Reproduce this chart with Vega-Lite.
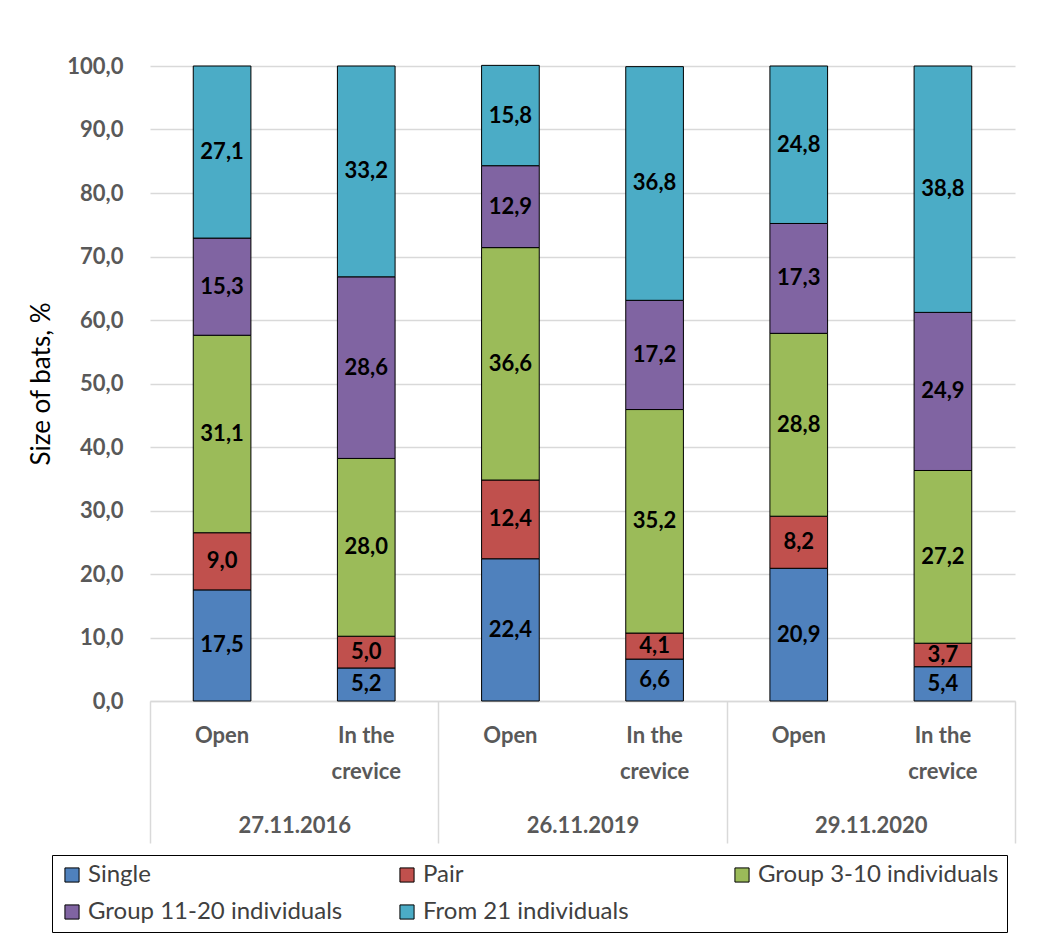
{
  "$schema": "https://vega.github.io/schema/vega-lite/v6.json",
  "autosize": "none",
  "width": 865,
  "height": 635,
  "padding": {"left": 150, "top": 66, "right": 22, "bottom": 250},
  "background": "white",
  "config": {
    "locale": {"number": {"decimal": ",", "thousands": " ", "grouping": [3], "currency": ["", ""]}},
    "view": {"stroke": null},
    "font": "Lato"
  },
  "data": {
    "values": [
      {"cat": "Open 2016", "date": "27.11.2016", "group": "Single", "order": 1, "value": 17.5},
      {"cat": "Open 2016", "date": "27.11.2016", "group": "Pair", "order": 2, "value": 9.0},
      {"cat": "Open 2016", "date": "27.11.2016", "group": "Group 3-10 individuals", "order": 3, "value": 31.1},
      {"cat": "Open 2016", "date": "27.11.2016", "group": "Group 11-20 individuals", "order": 4, "value": 15.3},
      {"cat": "Open 2016", "date": "27.11.2016", "group": "From 21 individuals", "order": 5, "value": 27.1},
      {"cat": "Crevice 2016", "date": "27.11.2016", "group": "Single", "order": 1, "value": 5.2},
      {"cat": "Crevice 2016", "date": "27.11.2016", "group": "Pair", "order": 2, "value": 5.0},
      {"cat": "Crevice 2016", "date": "27.11.2016", "group": "Group 3-10 individuals", "order": 3, "value": 28.0},
      {"cat": "Crevice 2016", "date": "27.11.2016", "group": "Group 11-20 individuals", "order": 4, "value": 28.6},
      {"cat": "Crevice 2016", "date": "27.11.2016", "group": "From 21 individuals", "order": 5, "value": 33.2},
      {"cat": "Open 2019", "date": "26.11.2019", "group": "Single", "order": 1, "value": 22.4},
      {"cat": "Open 2019", "date": "26.11.2019", "group": "Pair", "order": 2, "value": 12.4},
      {"cat": "Open 2019", "date": "26.11.2019", "group": "Group 3-10 individuals", "order": 3, "value": 36.6},
      {"cat": "Open 2019", "date": "26.11.2019", "group": "Group 11-20 individuals", "order": 4, "value": 12.9},
      {"cat": "Open 2019", "date": "26.11.2019", "group": "From 21 individuals", "order": 5, "value": 15.8},
      {"cat": "Crevice 2019", "date": "26.11.2019", "group": "Single", "order": 1, "value": 6.6},
      {"cat": "Crevice 2019", "date": "26.11.2019", "group": "Pair", "order": 2, "value": 4.1},
      {"cat": "Crevice 2019", "date": "26.11.2019", "group": "Group 3-10 individuals", "order": 3, "value": 35.2},
      {"cat": "Crevice 2019", "date": "26.11.2019", "group": "Group 11-20 individuals", "order": 4, "value": 17.2},
      {"cat": "Crevice 2019", "date": "26.11.2019", "group": "From 21 individuals", "order": 5, "value": 36.8},
      {"cat": "Open 2020", "date": "29.11.2020", "group": "Single", "order": 1, "value": 20.9},
      {"cat": "Open 2020", "date": "29.11.2020", "group": "Pair", "order": 2, "value": 8.2},
      {"cat": "Open 2020", "date": "29.11.2020", "group": "Group 3-10 individuals", "order": 3, "value": 28.8},
      {"cat": "Open 2020", "date": "29.11.2020", "group": "Group 11-20 individuals", "order": 4, "value": 17.3},
      {"cat": "Open 2020", "date": "29.11.2020", "group": "From 21 individuals", "order": 5, "value": 24.8},
      {"cat": "Crevice 2020", "date": "29.11.2020", "group": "Single", "order": 1, "value": 5.4},
      {"cat": "Crevice 2020", "date": "29.11.2020", "group": "Pair", "order": 2, "value": 3.7},
      {"cat": "Crevice 2020", "date": "29.11.2020", "group": "Group 3-10 individuals", "order": 3, "value": 27.2},
      {"cat": "Crevice 2020", "date": "29.11.2020", "group": "Group 11-20 individuals", "order": 4, "value": 24.9},
      {"cat": "Crevice 2020", "date": "29.11.2020", "group": "From 21 individuals", "order": 5, "value": 38.8}
    ]
  },
  "transform": [
    {"stack": "value", "groupby": ["cat"], "sort": [{"field": "order", "order": "ascending"}], "as": ["y0", "y1"]},
    {"calculate": "(datum.y0 + datum.y1) / 2", "as": "mid"}
  ],
  "layer": [
    {
      "mark": {"type": "bar", "stroke": "#000000", "strokeWidth": 1},
      "encoding": {
        "x": {
          "field": "cat", "type": "nominal",
          "sort": ["Open 2016", "Crevice 2016", "Open 2019", "Crevice 2019", "Open 2020", "Crevice 2020"],
          "scale": {"paddingInner": 0.6, "paddingOuter": 0.3},
          "axis": {
            "orient": "bottom",
            "title": null,
            "labelAngle": 0,
            "labelExpr": "indexof(datum.value, 'Open') == 0 ? 'Open' : ['In the', 'crevice']",
            "labelFont": "Lato", "labelFontSize": 22, "labelFontWeight": "bold", "labelColor": "#595959",
            "labelBaseline": "top", "labelLineHeight": 36, "labelPadding": 24,
            "ticks": false, "domainColor": "#d9d9d9", "domainWidth": 1.5, "grid": false
          }
        },
        "y": {
          "field": "y1", "type": "quantitative",
          "scale": {"domain": [0, 100], "nice": false},
          "axis": {
            "title": "Size of bats, %",
            "values": [0, 10, 20, 30, 40, 50, 60, 70, 80, 90, 100],
            "format": ".1f",
            "labelFont": "Lato", "labelFontSize": 22, "labelFontWeight": "bold", "labelColor": "#595959",
            "labelPadding": 27,
            "titleFont": "Lato", "titleFontSize": 26, "titleFontWeight": "normal", "titleColor": "#000000",
            "titlePadding": 12,
            "domain": false, "ticks": false,
            "grid": true, "gridColor": "#d9d9d9", "gridWidth": 1.5
          }
        },
        "y2": {"field": "y0"},
        "color": {
          "field": "group", "type": "nominal",
          "scale": {
            "domain": ["Single", "Pair", "Group 3-10 individuals", "Group 11-20 individuals", "From 21 individuals"],
            "range": ["#4f81bd", "#c0504d", "#9bbb59", "#8064a2", "#4bacc6"]
          },
          "legend": {
            "title": null,
            "orient": "none",
            "legendX": -98,
            "legendY": 789,
            "direction": "horizontal",
            "columns": 3,
            "gridAlign": "all",
            "columnPadding": 52,
            "rowPadding": 13,
            "padding": 8,
            "strokeColor": "#000000",
            "fillColor": "white",
            "symbolType": "square",
            "symbolSize": 200,
            "symbolStrokeColor": "#000000",
            "symbolStrokeWidth": 1,
            "symbolOpacity": 1,
            "labelFont": "Lato", "labelFontSize": 24, "labelColor": "#404040",
            "labelOffset": 4,
            "labelLimit": 400
          }
        }
      }
    },
    {
      "mark": {"type": "text", "fontWeight": "bold", "fontSize": 22, "font": "Lato", "color": "#000000"},
      "encoding": {
        "x": {"field": "cat", "type": "nominal", "axis": null, "sort": ["Open 2016", "Crevice 2016", "Open 2019", "Crevice 2019", "Open 2020", "Crevice 2020"]},
        "y": {"field": "mid", "type": "quantitative"},
        "text": {"field": "value", "type": "quantitative", "format": ".1f"}
      }
    },
    {
      "mark": {"type": "bar", "opacity": 0},
      "encoding": {
        "x": {
          "field": "date", "type": "nominal",
          "sort": ["27.11.2016", "26.11.2019", "29.11.2020"],
          "scale": {"paddingInner": 0, "paddingOuter": 0},
          "axis": {
            "orient": "bottom",
            "title": null,
            "labelAngle": 0,
            "labelFont": "Lato", "labelFontSize": 22, "labelFontWeight": "bold", "labelColor": "#595959",
            "labelBaseline": "top",
            "domain": false,
            "ticks": true, "tickBand": "extent", "tickSize": 142, "tickColor": "#d9d9d9", "tickWidth": 1.5,
            "labelPadding": -28,
            "grid": false
          }
        },
        "y": {"field": "y1", "type": "quantitative"},
        "y2": {"field": "y0"}
      }
    }
  ],
  "resolve": {"scale": {"x": "independent"}, "axis": {"x": "independent"}}
}
